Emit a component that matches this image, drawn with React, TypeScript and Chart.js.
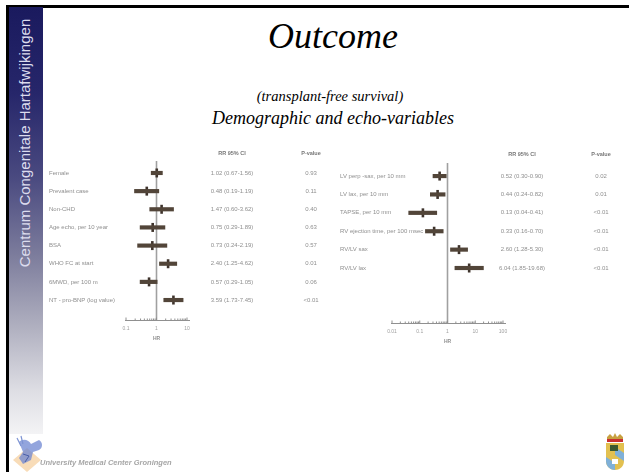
import React, { useEffect, useRef } from "react";
import { Chart, registerables } from "chart.js";

Chart.register(...registerables);

// ---------- Data: left forest plot (demographic variables) ----------
const leftLabels = [
  "Female",
  "Prevalent case",
  "Non-CHD",
  "Age echo, per 10 year",
  "BSA",
  "WHO FC at start",
  "6MWD, per 100 m",
  "NT - pro-BNP (log value)",
];
const leftRR = [1.02, 0.48, 1.47, 0.75, 0.73, 2.4, 0.57, 3.59];
const leftLow = [0.67, 0.19, 0.6, 0.29, 0.24, 1.25, 0.29, 1.73];
const leftHigh = [1.56, 1.19, 3.62, 1.89, 2.19, 4.62, 1.05, 7.45];
const leftP = ["0.93", "0.11", "0.40", "0.63", "0.57", "0.01", "0.06", "<0.01"];
const leftTickValues = [0.1, 1, 10];
const leftTickLabels = ["0.1", "1", "10"];

// ---------- Data: right forest plot (echo variables) ----------
const rightLabels = [
  "LV perp -sax, per 10 mm",
  "LV lax, per 10 mm",
  "TAPSE, per 10 mm",
  "RV ejection time, per 100 msec",
  "RV/LV sax",
  "RV/LV lax",
];
const rightRR = [0.52, 0.44, 0.13, 0.33, 2.6, 6.04];
const rightLow = [0.3, 0.24, 0.04, 0.16, 1.28, 1.85];
const rightHigh = [0.9, 0.82, 0.41, 0.7, 5.3, 19.68];
const rightP = ["0.02", "0.01", "<0.01", "<0.01", "<0.01", "<0.01"];
const rightTickValues = [0.01, 0.1, 1, 10, 100];
const rightTickLabels = ["0.01", "0.1", "1", "10", "100"];

const headerCI = "RR 95% CI";
const headerP = "P-value";
const axisTitle = "HR";

const BAR_COLOR = "#524539";
const TICK_COLOR = "#3e332c";
const TEXT_COLOR = "#8f8f8f";
const FONT = '"Liberation Sans", Arial, sans-serif';

type ForestCfg = {
  labels: string[];
  rr: number[];
  lo: number[];
  hi: number[];
  p: string[];
  tickValues: number[];
  tickLabels: string[];
  labelX: number;
  ciX: number;
  pX: number;
  headerValue: number;
  padding: { left: number; right: number; top: number; bottom: number };
  yMin: number;
  yMax: number;
};

function fmt(v: number) {
  return v.toFixed(2);
}

function makePlugin(cfg: ForestCfg) {
  return {
    id: "forestDecor",
    beforeDatasetsDraw(chart: any) {
      const { ctx, chartArea } = chart;
      const xs = chart.scales.x;
      const x1 = xs.getPixelForValue(1);
      ctx.save();
      // reference line at RR = 1
      ctx.strokeStyle = "#a0a0a0";
      ctx.lineWidth = 1.6;
      ctx.beginPath();
      ctx.moveTo(x1, chartArea.top);
      ctx.lineTo(x1, chartArea.bottom);
      ctx.stroke();
      // axis line
      const ay = Math.round(chartArea.bottom) + 0.5;
      ctx.strokeStyle = "#909090";
      ctx.lineWidth = 1;
      ctx.beginPath();
      ctx.moveTo(chartArea.left - 1, ay);
      ctx.lineTo(chartArea.right + 3, ay);
      ctx.stroke();
      // tick marks (major + minor log ticks)
      ctx.beginPath();
      for (let d = 0; d < cfg.tickValues.length; d++) {
        const base = cfg.tickValues[d];
        const px = xs.getPixelForValue(base);
        ctx.moveTo(px, ay);
        ctx.lineTo(px, ay - 3);
        if (d < cfg.tickValues.length - 1) {
          for (let k = 2; k <= 9; k++) {
            const mx = xs.getPixelForValue(base * k);
            ctx.moveTo(mx, ay);
            ctx.lineTo(mx, ay - 2);
          }
        }
      }
      ctx.stroke();
      // tick labels
      ctx.fillStyle = "#a0a0a0";
      ctx.font = `5px ${FONT}`;
      ctx.textAlign = "center";
      ctx.textBaseline = "middle";
      cfg.tickValues.forEach((v, i) => {
        ctx.fillText(cfg.tickLabels[i], xs.getPixelForValue(v), ay + 8);
      });
      ctx.font = `bold 5px ${FONT}`;
      ctx.fillStyle = "#909090";
      ctx.fillText(axisTitle, x1, ay + 18);
      ctx.restore();
    },
    afterDatasetsDraw(chart: any) {
      const { ctx } = chart;
      const ys = chart.scales.y;
      ctx.save();
      ctx.textBaseline = "middle";
      // headers
      const hy = ys.getPixelForValue(cfg.headerValue);
      ctx.font = `bold 5.5px ${FONT}`;
      ctx.fillStyle = "#777777";
      ctx.textAlign = "center";
      ctx.fillText(headerCI, cfg.ciX, hy);
      ctx.fillText(headerP, cfg.pX, hy);
      // rows
      ctx.font = `6px ${FONT}`;
      ctx.fillStyle = TEXT_COLOR;
      cfg.labels.forEach((lab, i) => {
        const y = ys.getPixelForValue(i);
        ctx.textAlign = "left";
        ctx.fillText(lab, cfg.labelX, y);
        ctx.textAlign = "center";
        ctx.fillText(`${fmt(cfg.rr[i])} (${fmt(cfg.lo[i])}-${fmt(cfg.hi[i])})`, cfg.ciX, y);
        ctx.fillText(cfg.p[i], cfg.pX, y);
      });
      ctx.restore();
    },
  };
}

function ForestChart({ cfg }: { cfg: ForestCfg }) {
  const ref = useRef<HTMLCanvasElement | null>(null);
  useEffect(() => {
    if (!ref.current) return;
    const chart = new Chart(ref.current, {
      type: "bar",
      data: {
        datasets: [
          {
            type: "bar",
            data: cfg.lo.map((l, i) => ({ x: [l, cfg.hi[i]], y: i })) as any,
            backgroundColor: BAR_COLOR,
            borderWidth: 0,
            barThickness: 3.5,
            indexAxis: "y",
          } as any,
          {
            type: "scatter",
            data: cfg.rr.map((v, i) => ({ x: v, y: i })),
            showLine: false,
            pointStyle: "line",
            pointRotation: 90,
            pointRadius: 4.5,
            pointBorderWidth: 2.6,
            pointBorderColor: TICK_COLOR,
            pointBackgroundColor: TICK_COLOR,
            borderColor: TICK_COLOR,
            indexAxis: "y",
          } as any,
        ],
      },
      options: {
        indexAxis: "y",
        responsive: false,
        animation: false,
        devicePixelRatio: 1,
        layout: { padding: cfg.padding },
        scales: {
          x: {
            type: "logarithmic",
            min: cfg.tickValues[0],
            max: cfg.tickValues[cfg.tickValues.length - 1],
            offset: false,
            display: false,
          },
          y: { type: "linear", min: cfg.yMin, max: cfg.yMax, reverse: true, offset: false, display: false },
        },
        plugins: { legend: { display: false }, tooltip: { enabled: false } },
      } as any,
      plugins: [makePlugin(cfg) as any],
    });
    return () => chart.destroy();
  }, [cfg]);
  return (
    <canvas
      ref={ref}
      width={629}
      height={472}
      style={{ position: "absolute", left: 0, top: 0, width: 629, height: 472 }}
    />
  );
}

const leftCfg: ForestCfg = {
  labels: leftLabels,
  rr: leftRR,
  lo: leftLow,
  hi: leftHigh,
  p: leftP,
  tickValues: leftTickValues,
  tickLabels: leftTickLabels,
  labelX: 49,
  ciX: 232,
  pX: 311,
  headerValue: -1.05,
  padding: { left: 126, right: 629 - 187, top: 161, bottom: 472 - 320 },
  yMin: -0.66,
  yMax: 8.1,
};

const rightCfg: ForestCfg = {
  labels: rightLabels,
  rr: rightRR,
  lo: rightLow,
  hi: rightHigh,
  p: rightP,
  tickValues: rightTickValues,
  tickLabels: rightTickLabels,
  labelX: 340,
  ciX: 522,
  pX: 601,
  headerValue: -1.2,
  padding: { left: 392, right: 629 - 503, top: 163, bottom: 472 - 323 },
  yMin: -0.71,
  yMax: 7.99,
};

function LeftLogo() {
  return (
    <svg width={38} height={38} style={{ position: "absolute", left: 9, top: 434 }} viewBox="0 0 38 38">
      <polygon points="4,26 18,14 32,26 18,38" fill="#f8dcb8" />
      <path d="M10,8 C14,4 20,6 22,10 L30,6 C34,8 34,14 30,16 L24,18 L22,26 L14,30 L10,24 L14,18 Z" fill="#6f87d2" opacity={0.75} />
      <path d="M12,12 L8,4 M14,10 L12,2" stroke="#7f95d4" strokeWidth={1.2} />
      <path d="M14,20 L20,22 L16,28" stroke="#4a5ea8" strokeWidth={1} fill="none" />
    </svg>
  );
}

function Crest() {
  return (
    <svg width={22} height={38} style={{ position: "absolute", left: 604, top: 433 }} viewBox="0 0 22 38">
      <path d="M3,4 L6,1 L9,4 L11,0 L13,4 L16,1 L19,4 L19,9 L3,9 Z" fill="#c8a040" />
      <rect x={3} y={6} width={16} height={3} fill="#c83030" />
      <path d="M2,10 L20,10 L20,28 C20,34 15,37 11,37 C7,37 2,34 2,28 Z" fill="#e2c050" />
      <path d="M11,14 L20,20 L20,28 L11,22 Z" fill="#7fb0d8" />
      <path d="M2,24 L11,30 L11,37 C7,37 2,34 2,28 Z" fill="#7fb0d8" />
      <rect x={6} y={12} width={8} height={6} fill="#3a5a30" />
      <rect x={8} y={26} width={6} height={5} fill="#ffffff" />
    </svg>
  );
}

export default function App() {
  return (
    <div
      style={{
        position: "fixed",
        left: 0,
        top: 0,
        width: 629,
        height: 472,
        background: "#ffffff",
        overflow: "hidden",
      }}
    >
      {/* slide frame */}
      <div style={{ position: "absolute", left: 6, top: 5, width: 623, height: 2.5, background: "#000" }} />
      <div style={{ position: "absolute", left: 6, top: 5, width: 3, height: 467, background: "#000" }} />
      {/* sidebar */}
      <div
        style={{
          position: "absolute",
          left: 9,
          top: 7,
          width: 34,
          height: 427,
          background:
            "linear-gradient(to bottom, #1a1a5e 0%, #26266a 20%, #4a4a80 40%, #7c7c9c 58%, #b0b0c0 75%, #dedee4 90%, #f3f3f5 100%)",
        }}
      />
      <div
        style={{
          position: "absolute",
          left: 24.5 - 150,
          top: 143 - 10,
          width: 300,
          height: 20,
          lineHeight: "20px",
          textAlign: "center",
          transform: "rotate(-90deg)",
          fontFamily: FONT,
          fontSize: 15,
          color: "#dcdcee",
          whiteSpace: "nowrap",
        }}
      >
        Centrum Congenitale Hartafwijkingen
      </div>
      {/* titles */}
      <div
        style={{
          position: "absolute",
          left: 0,
          top: 18,
          width: 666,
          textAlign: "center",
          fontFamily: '"Liberation Serif", "Times New Roman", serif',
          fontStyle: "italic",
          fontSize: 36,
          lineHeight: "36px",
          color: "#000",
        }}
      >
        Outcome
      </div>
      <div
        style={{
          position: "absolute",
          left: 0,
          top: 88.5,
          width: 660,
          textAlign: "center",
          fontFamily: '"Liberation Serif", "Times New Roman", serif',
          fontStyle: "italic",
          fontSize: 14.5,
          lineHeight: "14.5px",
          color: "#000",
        }}
      >
        (transplant-free survival)
      </div>
      <div
        style={{
          position: "absolute",
          left: 0,
          top: 109,
          width: 666,
          textAlign: "center",
          fontFamily: '"Liberation Serif", "Times New Roman", serif',
          fontStyle: "italic",
          fontSize: 18,
          lineHeight: "18px",
          color: "#000",
        }}
      >
        Demographic and echo-variables
      </div>
      {/* charts */}
      <ForestChart cfg={leftCfg} />
      <ForestChart cfg={rightCfg} />
      {/* footer */}
      <LeftLogo />
      <div
        style={{
          position: "absolute",
          left: 40,
          top: 458,
          fontFamily: FONT,
          fontStyle: "italic",
          fontWeight: "bold",
          fontSize: 7.5,
          lineHeight: "10px",
          color: "#a6a6a6",
          whiteSpace: "nowrap",
        }}
      >
        University Medical Center Groningen
      </div>
      <Crest />
    </div>
  );
}
